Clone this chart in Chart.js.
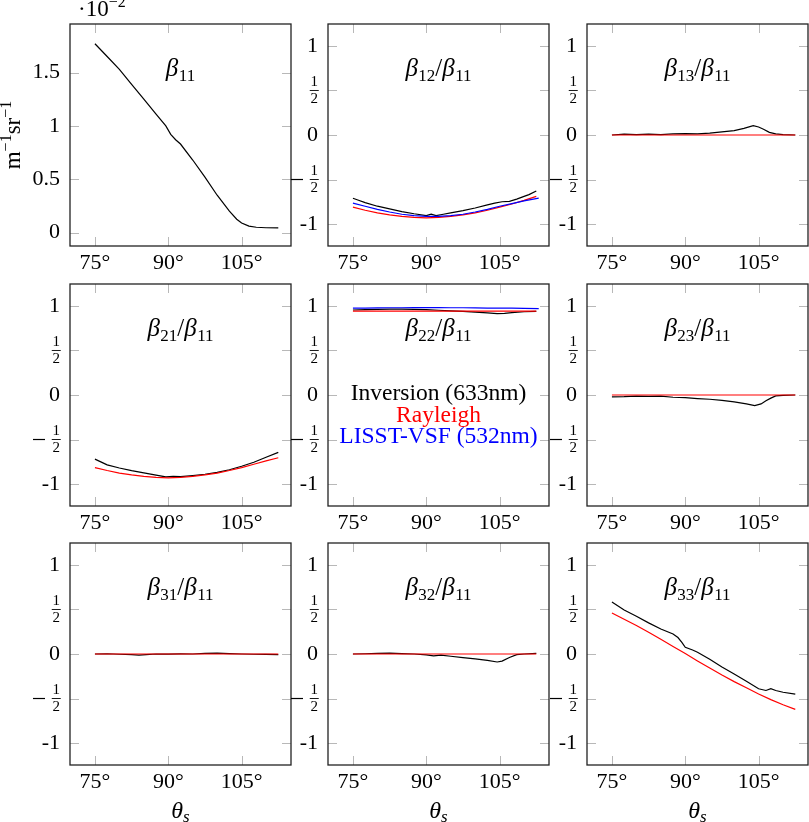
<!DOCTYPE html>
<html><head><meta charset="utf-8">
<script src="https://cdn.jsdelivr.net/npm/chart.js@4.4.0/dist/chart.umd.min.js"></script>
<style>
html,body{margin:0;padding:0;background:#fff}
body{width:809px;height:822px;position:relative;overflow:hidden}
canvas{position:absolute}
</style></head><body>
<script>
// ---------------- data ----------------
const xTicks = [75, 90, 105];
const ratioTicks = [-1, -0.5, 0, 0.5, 1];
const b11Ticks = [0, 0.5, 1, 1.5];

// shared angle grids
const thRay = [75, 77.5, 80, 82.5, 85, 87.5, 90, 92.5, 95, 97.5, 100, 102.5, 105, 107.5, 110, 112.5];
const thLisst = [75, 77.5, 80, 82.5, 85, 87.5, 90, 92.5, 95, 97.5, 100, 102.5, 105, 107.5, 110, 113];

// beta11 (x 1e-2 m^-1 sr^-1)
const thInv11 = [75, 77.5, 80, 82.5, 85, 87.5, 89.5, 90.5, 91.5, 92.5, 95, 97.5, 100, 102.5, 104, 105, 106.5, 108, 110, 112.5];
const inv11 = [1.77, 1.65, 1.53, 1.39, 1.25, 1.11, 1.00, 0.92, 0.87, 0.83, 0.68, 0.52, 0.35, 0.20, 0.125, 0.09, 0.06, 0.05, 0.045, 0.044];

// beta12/beta11
const thInv12 = [75, 76, 77.5, 80, 82.5, 85, 87.5, 90, 91, 92, 93.5, 95, 97.5, 100, 102.5, 104, 105.5, 107, 108.5, 110, 111, 112.5];
const inv12 = [-0.71, -0.73, -0.76, -0.80, -0.83, -0.86, -0.885, -0.905, -0.89, -0.905, -0.89, -0.875, -0.85, -0.82, -0.785, -0.765, -0.75, -0.745, -0.72, -0.69, -0.67, -0.63];
const ray12 = [-0.81, -0.845, -0.875, -0.897, -0.915, -0.925, -0.93, -0.925, -0.915, -0.897, -0.875, -0.845, -0.81, -0.775, -0.735, -0.69];
const lisst12 = [-0.765, -0.80, -0.835, -0.865, -0.89, -0.905, -0.915, -0.915, -0.905, -0.89, -0.865, -0.835, -0.80, -0.77, -0.74, -0.71];

// beta13/beta11
const thInv13 = [75, 77.5, 80, 82.5, 85, 87.5, 90, 92.5, 95, 97.5, 100, 102, 103.9, 105, 106, 107.2, 108.5, 110, 112.5];
const inv13 = [0.0, 0.01, 0.005, 0.01, 0.005, 0.012, 0.015, 0.012, 0.02, 0.035, 0.05, 0.075, 0.105, 0.09, 0.065, 0.03, 0.012, 0.005, 0.0];
const ray13 = [0, 0, 0, 0, 0, 0, 0, 0, 0, 0, 0, 0, 0, 0, 0, 0];

// beta21/beta11
const thInv21 = [75, 77.5, 80, 82.5, 85, 87.5, 89.5, 91, 92.5, 95, 97.5, 100, 102.5, 105, 107.5, 110, 112.5];
const inv21 = [-0.72, -0.785, -0.82, -0.85, -0.875, -0.90, -0.92, -0.915, -0.918, -0.905, -0.89, -0.87, -0.84, -0.80, -0.755, -0.70, -0.645];
const ray21 = [-0.815, -0.848, -0.877, -0.898, -0.915, -0.925, -0.93, -0.925, -0.915, -0.898, -0.877, -0.848, -0.815, -0.778, -0.74, -0.705];

// beta22/beta11
const thInv22 = [75, 77.5, 80, 82.5, 85, 87.5, 90, 92.5, 95, 97.5, 100, 102.5, 104.5, 106, 107.5, 110, 112.5];
const inv22 = [0.955, 0.96, 0.962, 0.965, 0.965, 0.963, 0.96, 0.952, 0.945, 0.94, 0.932, 0.922, 0.915, 0.918, 0.925, 0.935, 0.94];
const ray22 = [0.943, 0.943, 0.943, 0.943, 0.943, 0.943, 0.943, 0.943, 0.943, 0.943, 0.943, 0.943, 0.943, 0.943, 0.943, 0.943];
const lisst22 = [0.975, 0.977, 0.978, 0.98, 0.98, 0.981, 0.982, 0.982, 0.98, 0.98, 0.978, 0.977, 0.975, 0.975, 0.973, 0.97];

// beta23/beta11
const thInv23 = [75, 77.5, 80, 82.5, 85, 87.5, 90, 92.5, 95, 97.5, 100, 102.5, 104.2, 105.5, 106.5, 107.5, 108.5, 110, 112.5];
const inv23 = [-0.02, -0.018, -0.012, -0.015, -0.012, -0.025, -0.03, -0.04, -0.048, -0.06, -0.078, -0.10, -0.12, -0.10, -0.065, -0.035, -0.01, -0.005, 0.0];
const ray23 = [0, 0, 0, 0, 0, 0, 0, 0, 0, 0, 0, 0, 0, 0, 0, 0];

// beta31/beta11
const thInv31 = [75, 77.5, 80, 82.5, 84, 85.5, 87.5, 90, 92.5, 95, 97.5, 100, 102.5, 105, 107.5, 110, 112.5];
const inv31 = [0.0, 0.003, -0.003, -0.008, -0.012, -0.006, 0.0, -0.002, 0.002, 0.0, 0.006, 0.01, 0.005, 0.0, -0.003, -0.005, -0.006];
const ray31 = [0, 0, 0, 0, 0, 0, 0, 0, 0, 0, 0, 0, 0, 0, 0, 0];

// beta32/beta11
const thInv32 = [75, 77.5, 80, 82.5, 85, 87.5, 90, 91.5, 93, 95, 97.5, 100, 102.5, 104.5, 105.5, 107, 108.5, 110, 112.5];
const inv32 = [0.0, 0.003, 0.008, 0.01, 0.005, 0.0, -0.01, -0.02, -0.012, -0.025, -0.04, -0.055, -0.072, -0.09, -0.08, -0.04, -0.008, 0.0, 0.008];
const ray32 = [0, 0, 0, 0, 0, 0, 0, 0, 0, 0, 0, 0, 0, 0, 0, 0];

// beta33/beta11
const thInv33 = [75, 77.5, 80, 82.5, 85, 87.5, 88.5, 89.3, 90, 91.5, 92.5, 95, 97.5, 100, 102.5, 105, 106.5, 107.5, 108.5, 110, 112.5];
const inv33 = [0.585, 0.495, 0.425, 0.35, 0.28, 0.225, 0.185, 0.13, 0.075, 0.045, 0.02, -0.06, -0.145, -0.225, -0.305, -0.39, -0.41, -0.39, -0.41, -0.43, -0.45];
const ray33 = [0.46, 0.39, 0.32, 0.245, 0.165, 0.085, 0.005, -0.078, -0.158, -0.236, -0.31, -0.38, -0.45, -0.513, -0.57, -0.622];

const legendLabels = ['Inversion (633nm)', 'Rayleigh', 'LISST-VSF (532nm)'];

// ---------------- layout / style ----------------
const FONT = '"Liberation Serif", "DejaVu Serif", serif';
const colLeft = [70, 328, 587];
const rowTop = [24, 284, 543];
const PW = 221, PH = 222;
const LEFT = 70, TOP = 24, RIGHT = 8, BOTTOM = 70;
const C_INV = '#000000', C_RAY = '#ff0000', C_LISST = '#0000ff';

const pts = (xs, ys) => xs.map((x, i) => ({x: x, y: ys[i]}));
function ser(xs, ys, color, order) {
  return {data: pts(xs, ys), borderColor: color, borderWidth: 1.2, pointRadius: 0, fill: false, tension: 0, order: order};
}

const panels = [
  {c:0, r:0, sub:'11', ratio:false, ymin:-0.126, ymax:1.955, yt:b11Ticks,
   ds:[ser(thInv11, inv11, C_INV, 3)], yTitle:true},
  {c:1, r:0, sub:'12', ratio:true, ds:[ser(thInv12, inv12, C_INV, 3), ser(thRay, ray12, C_RAY, 2), ser(thLisst, lisst12, C_LISST, 1)]},
  {c:2, r:0, sub:'13', ratio:true, ds:[ser(thInv13, inv13, C_INV, 3), ser(thRay, ray13, C_RAY, 2)]},
  {c:0, r:1, sub:'21', ratio:true, ds:[ser(thInv21, inv21, C_INV, 3), ser(thRay, ray21, C_RAY, 2)]},
  {c:1, r:1, sub:'22', ratio:true, ds:[ser(thInv22, inv22, C_INV, 3), ser(thRay, ray22, C_RAY, 2), ser(thLisst, lisst22, C_LISST, 1)], legend:true},
  {c:2, r:1, sub:'23', ratio:true, ds:[ser(thInv23, inv23, C_INV, 3), ser(thRay, ray23, C_RAY, 2)]},
  {c:0, r:2, sub:'31', ratio:true, ds:[ser(thInv31, inv31, C_INV, 3), ser(thRay, ray31, C_RAY, 2)]},
  {c:1, r:2, sub:'32', ratio:true, ds:[ser(thInv32, inv32, C_INV, 3), ser(thRay, ray32, C_RAY, 2)]},
  {c:2, r:2, sub:'33', ratio:true, ds:[ser(thInv33, inv33, C_INV, 3), ser(thRay, ray33, C_RAY, 2)]},
];

function drawRich(ctx, parts, x, y, align) {
  let w = 0;
  for (const p of parts) {
    ctx.font = (p.it ? 'italic ' : '') + p.s + 'px ' + FONT;
    p.w = ctx.measureText(p.t).width;
    w += p.w + (p.g || 0);
  }
  let cx = align === 'center' ? x - w / 2 : (align === 'right' ? x - w : x);
  ctx.textAlign = 'left';
  ctx.textBaseline = 'alphabetic';
  for (const p of parts) {
    ctx.font = (p.it ? 'italic ' : '') + p.s + 'px ' + FONT;
    ctx.fillStyle = p.c || '#000';
    ctx.fillText(p.t, cx, y + (p.dy || 0));
    cx += p.w + (p.g || 0);
  }
}

const M = 25, S = 17;
function betaParts(sub, ratio) {
  const parts = [{t:'β', s:M, it:true, g:0.5}, {t:sub, s:S, dy:5}];
  if (ratio) {
    parts.push({t:'/', s:M, g:0}, {t:'β', s:M, it:true, g:0.5}, {t:'11', s:S, dy:5});
  }
  return parts;
}

const decorPlugin = {
  id: 'decor',
  afterDraw(chart, args, opts) {
    const P = opts.panel;
    const ctx = chart.ctx;
    const a = chart.chartArea;
    const xs = chart.scales.x, ys = chart.scales.y;
    ctx.save();
    // inner tick marks
    ctx.strokeStyle = '#b8b8b8';
    ctx.lineWidth = 1;
    ctx.beginPath();
    const TL = 9;
    for (const t of xTicks) {
      const px = Math.round(xs.getPixelForValue(t)) + 0.5;
      ctx.moveTo(px, a.bottom); ctx.lineTo(px, a.bottom - TL);
      ctx.moveTo(px, a.top); ctx.lineTo(px, a.top + TL);
    }
    const yt = P.ratio ? ratioTicks : P.yt;
    for (const t of yt) {
      const py = Math.round(ys.getPixelForValue(t)) + 0.5;
      ctx.moveTo(a.left, py); ctx.lineTo(a.left + TL, py);
      ctx.moveTo(a.right, py); ctx.lineTo(a.right - TL, py);
    }
    ctx.stroke();
    // frame
    ctx.strokeStyle = '#222';
    ctx.lineWidth = 1.3;
    ctx.strokeRect(a.left, a.top, a.right - a.left, a.bottom - a.top);
    // fraction bars and minus signs for +-1/2
    if (P.ratio) {
      ctx.font = '15px ' + FONT;
      const w1 = ctx.measureText('1').width;
      const xc = a.left - 10 - w1 / 2;
      ctx.strokeStyle = '#000';
      ctx.lineWidth = 0.9;
      for (const v of [0.5, -0.5]) {
        const py = ys.getPixelForValue(v);
        ctx.beginPath();
        ctx.moveTo(xc - 4.5, py); ctx.lineTo(xc + 4.5, py);
        ctx.stroke();
      }
      const pym = ys.getPixelForValue(-0.5);
      ctx.lineWidth = 1.2;
      ctx.beginPath();
      ctx.moveTo(a.left - 37, pym); ctx.lineTo(a.left - 25, pym);
      ctx.stroke();
    }
    // panel label
    drawRich(ctx, betaParts(P.sub, P.ratio), (a.left + a.right) / 2, a.top + 52, 'center');
    // legend text
    if (P.legend) {
      const cols = [C_INV, C_RAY, C_LISST];
      const offs = [116, 137.5, 159];
      legendLabels.forEach((lab, i) => {
        drawRich(ctx, [{t:lab, s:23.5, c:cols[i]}], (a.left + a.right) / 2, a.top + offs[i], 'center');
      });
    }
    // y title and multiplier
    if (P.yTitle) {
      ctx.save();
      ctx.translate(20, (a.top + a.bottom) / 2);
      ctx.rotate(-Math.PI / 2);
      drawRich(ctx, [{t:'m', s:23}, {t:'−1', s:16, dy:-9}, {t:'sr', s:23}, {t:'−1', s:16, dy:-9}], 0, 0, 'center');
      ctx.restore();
      drawRich(ctx, [{t:'·10', s:23}, {t:'−2', s:16, dy:-9}], a.left + 8, 16, 'left');
    }
    // x title for bottom row
    if (P.r === 2) {
      drawRich(ctx, [{t:'θ', s:24, it:true}, {t:'s', s:17, it:true, dy:4}], (a.left + a.right) / 2, a.bottom + 53, 'center');
    }
    ctx.restore();
  }
};

panels.forEach((P) => {
  const cv = document.createElement('canvas');
  const W = LEFT + PW + RIGHT, H = TOP + PH + BOTTOM;
  cv.width = W; cv.height = H;
  cv.style.width = W + 'px'; cv.style.height = H + 'px';
  cv.style.left = (colLeft[P.c] - LEFT) + 'px';
  cv.style.top = (rowTop[P.r] - TOP) + 'px';
  document.body.appendChild(cv);
  const yTickVals = P.ratio ? ratioTicks : P.yt;
  new Chart(cv, {
    type: 'line',
    data: {datasets: P.ds},
    plugins: [decorPlugin],
    options: {
      responsive: false,
      animation: false,
      devicePixelRatio: 1,
      layout: {padding: {left: 0, top: TOP, right: RIGHT, bottom: 0}},
      plugins: {legend: {display: false}, tooltip: {enabled: false}, decor: {panel: P}},
      scales: {
        x: {
          type: 'linear', min: 69.9, max: 115.1,
          afterBuildTicks: (s) => { s.ticks = xTicks.map(v => ({value: v})); },
          afterFit: (s) => { s.height = BOTTOM; },
          grid: {display: false, drawTicks: false},
          border: {display: false},
          ticks: {padding: 4, color: '#000', maxRotation: 0, autoSkip: false,
                  font: {family: FONT, size: 22},
                  callback: (v) => v + '°'}
        },
        y: {
          type: 'linear',
          min: P.ratio ? -1.247 : P.ymin,
          max: P.ratio ? 1.247 : P.ymax,
          afterBuildTicks: (s) => { s.ticks = yTickVals.map(v => ({value: v})); },
          afterFit: (s) => { s.width = LEFT; },
          grid: {display: false, drawTicks: false},
          border: {display: false},
          ticks: {
            padding: 10, color: '#000', autoSkip: false,
            font: (c) => (P.ratio && c.tick && Math.abs(c.tick.value) === 0.5)
              ? {family: FONT, size: 15, lineHeight: 1.1}
              : {family: FONT, size: 22},
            callback: (v) => {
              if (!P.ratio) return String(v);
              if (Math.abs(v) === 0.5) return ['1', '2'];
              if (v === -1) return '-1';
              return String(v);
            }
          }
        }
      }
    }
  });
});
</script>
</body></html>
